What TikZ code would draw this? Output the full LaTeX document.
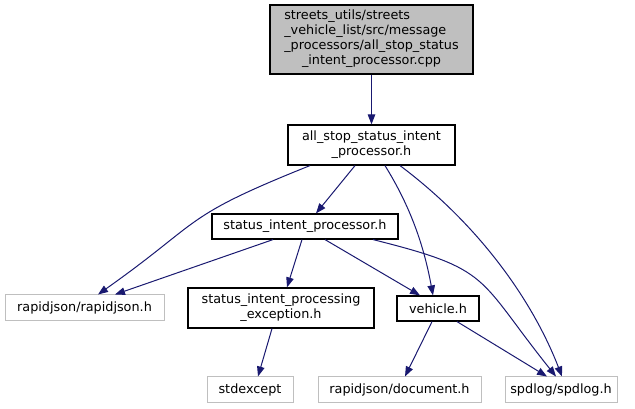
\documentclass[tikz,border=0pt]{standalone}
\usepackage{fontspec}
\setmainfont{DejaVu Sans}
\usepackage{xcolor}
\usepackage{tikz}
\usetikzlibrary{arrows.meta, positioning, calc}
\definecolor{edgeblue}{HTML}{191970}
\definecolor{boxgray}{HTML}{BFBFBF}

\begin{document}
\begin{tikzpicture}[
    x=1pt, y=1pt,
    font=\fontsize{12.8}{15}\selectfont,
    srcfile/.style={rectangle, minimum width=203pt, minimum height=69pt, inner sep=0pt, draw=black, line width=1.2pt, fill=boxgray},
    header/.style={rectangle, inner sep=0pt, text centered, align=center, draw=black, line width=1.2pt, fill=white},
    syshdr/.style={rectangle, inner sep=0pt, text centered, draw=boxgray, line width=1pt, fill=white},
    arrow/.style={draw=edgeblue, line width=1pt, -{Triangle[length=10pt,width=7.5pt]}}
]
    \useasboundingbox (0,0) rectangle (635,409);

    \node (cpp) [srcfile] at (371.5,369.5) {\begin{tabular}{@{}l@{}}streets\_utils/streets\\ \_vehicle\_list/src/message\\ \_processors/all\_stop\_status\\ \multicolumn{1}{@{}c@{}}{\_intent\_processor.cpp}\end{tabular}};
    \node (allstop) [header, minimum width=167pt, minimum height=40pt] at (371.5,264) {all\_stop\_status\_intent\\\_processor.h};
    \node (status) [header, minimum width=186pt, minimum height=25pt] at (305,182.5) {status\_intent\_processor.h};
    \node (rapidjson) [syshdr, minimum width=159pt, minimum height=26pt] at (84.5,101) {rapidjson/rapidjson.h};
    \node (exception) [header, minimum width=186pt, minimum height=40pt] at (281,101) {status\_intent\_processing\\\_exception.h};
    \node (vehicle) [header, minimum width=82pt, minimum height=25pt] at (438,100.5) {vehicle.h};
    \node (stdexcept) [syshdr, minimum width=86pt, minimum height=26pt] at (250,19) {stdexcept};
    \node (document) [syshdr, minimum width=163pt, minimum height=26pt] at (399.5,19) {rapidjson/document.h};
    \node (spdlog) [syshdr, minimum width=112pt, minimum height=26pt] at (561,19) {spdlog/spdlog.h};

    \draw [arrow] (cpp) -- (allstop);
    \draw [arrow] ([xshift=-61.5pt]allstop.south) .. controls +(-130,-52) and +(106,75) .. ([xshift=13.5pt]rapidjson.north);
    \draw [arrow] ([xshift=-16.5pt]allstop.south) -- ([xshift=11pt]status.north);
    \draw [arrow] ([xshift=13.5pt]allstop.south) .. controls +(26,-42) and +(-9,49) .. ([xshift=-5pt]vehicle.north);
    \draw [arrow] ([xshift=28.5pt]allstop.south) .. controls +(80,-60) and +(-29,75) .. ([xshift=1pt]spdlog.north);
    \draw [arrow] ([xshift=-32pt]status.south) -- ([xshift=30.5pt]rapidjson.north);
    \draw [arrow] ([xshift=-3pt]status.south) -- ([xshift=6pt]exception.north);
    \draw [arrow] ([xshift=20pt]status.south) -- ([xshift=-18pt]vehicle.north);
    \draw [arrow] ([xshift=68pt]status.south) .. controls +(120,-30) and +(-80,100) .. ([xshift=-5pt]spdlog.north);
    \draw [arrow] ([xshift=-9pt]exception.south) -- ([xshift=8pt]stdexcept.north);
    \draw [arrow] ([xshift=-6pt]vehicle.south) -- ([xshift=5.5pt]document.north);
    \draw [arrow] ([xshift=19pt]vehicle.south) -- ([xshift=-14pt]spdlog.north);
\end{tikzpicture}
\end{document}
